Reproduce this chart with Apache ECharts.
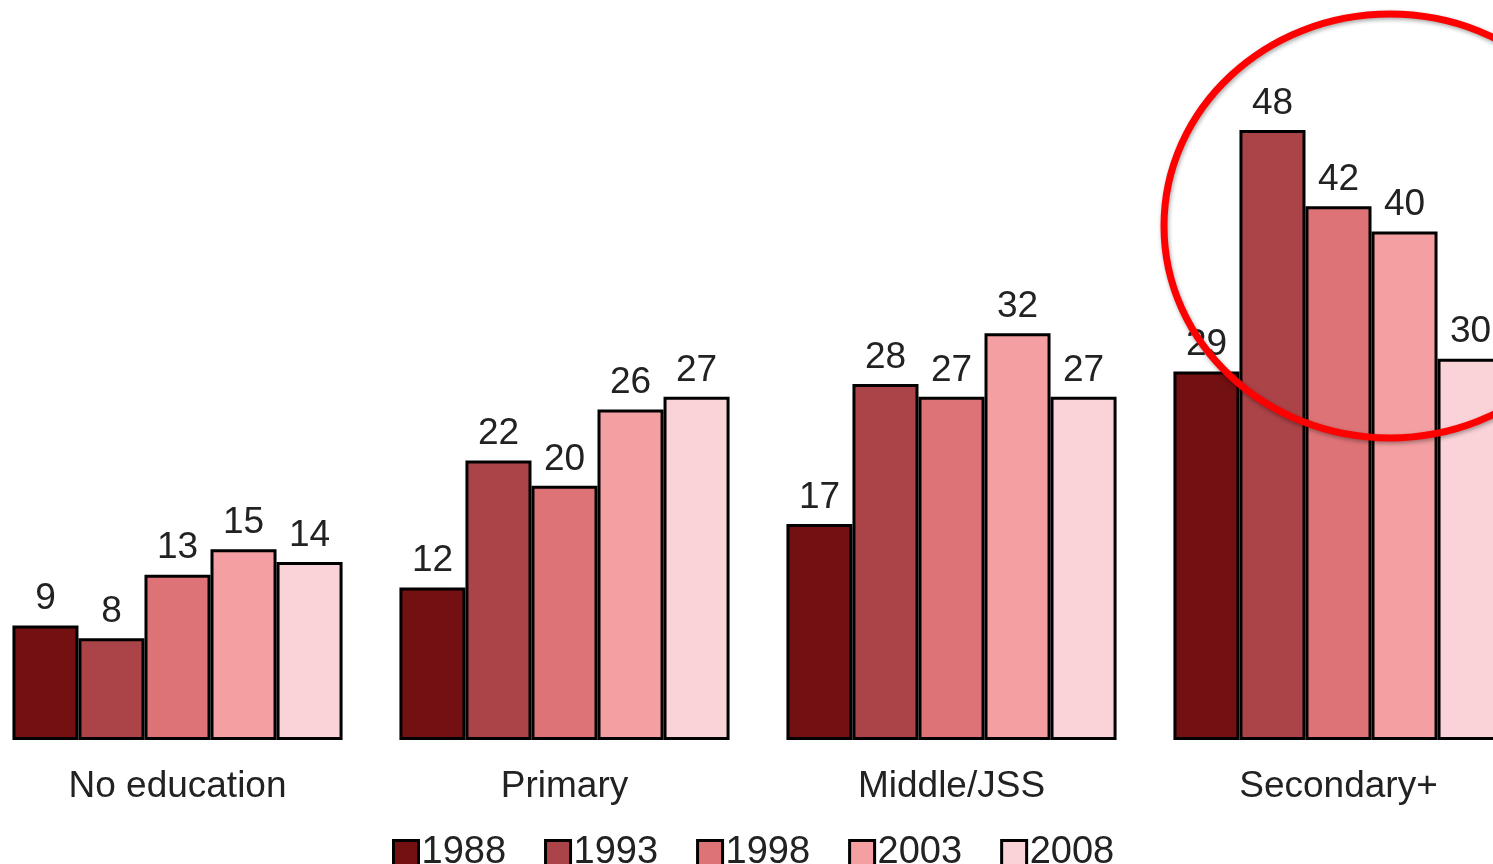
<!DOCTYPE html>
<html>
<head>
<meta charset="utf-8">
<script src="https://cdn.jsdelivr.net/npm/echarts@6/dist/echarts.min.js"></script>
<style>
  html, body { margin: 0; padding: 0; background: #fff; overflow: hidden; width: 1493px; height: 864px; }
  #chart { position: absolute; left: -16px; top: 0; width: 1548px; height: 864px; }
</style>
</head>
<body>
<div id="chart"></div>
<script>
// Education levels and survey years
const categories = ['No education', 'Primary', 'Middle/JSS', 'Secondary+'];
const years = ['1988', '1993', '1998', '2003', '2008'];

// Percentages per survey year, one value per education level
const v1988 = [9, 12, 17, 29];
const v1993 = [8, 22, 28, 48];
const v1998 = [13, 20, 27, 42];
const v2003 = [15, 26, 32, 40];
const v2008 = [14, 27, 27, 30];

const seriesValues = [v1988, v1993, v1998, v2003, v2008];
const colors = ['#721012', '#AB4448', '#DE7377', '#F4A0A2', '#FAD3D8'];

const chart = echarts.init(document.getElementById('chart'));

const textFont = 'Liberation Sans, Arial, sans-serif';
// the container is shifted 16px left, so page x = chart x - 16
const shift = 16;

chart.setOption({
  animation: false,
  backgroundColor: '#ffffff',
  grid: { left: 0, right: 0, top: 104.5, bottom: 124, containLabel: false },
  xAxis: {
    type: 'category',
    data: categories,
    axisLine: { show: false },
    axisTick: { show: false },
    axisLabel: {
      margin: 28,
      fontSize: 37,
      color: '#222',
      fontFamily: textFont
    }
  },
  yAxis: {
    type: 'value',
    min: 0,
    max: 50,
    show: false,
    splitLine: { show: false }
  },
  legend: {
    left: 387 + shift,
    top: 829,
    icon: 'rect',
    itemWidth: 25,
    itemHeight: 25,
    itemGap: 38,
    textStyle: { fontSize: 38, color: '#222', fontFamily: textFont, padding: [0, 0, 0, -2] },
    itemStyle: { borderColor: '#000', borderWidth: 3 },
    data: years
  },
  series: years.map((y, i) => ({
    name: y,
    type: 'bar',
    data: seriesValues[i],
    barGap: '0%',
    barCategoryGap: '14.7%',
    itemStyle: { color: colors[i], borderColor: '#000', borderWidth: 3 },
    label: {
      show: true,
      position: 'top',
      distance: 8,
      fontSize: 37,
      color: '#222',
      fontFamily: textFont
    }
  })),
  graphic: [{
    type: 'ellipse',
    z: 100,
    shape: { cx: 1390 + shift, cy: 226, rx: 226, ry: 212 },
    style: {
      fill: 'none',
      stroke: '#ff0000',
      lineWidth: 7,
      shadowBlur: 4,
      shadowColor: 'rgba(0,0,0,0.35)',
      shadowOffsetX: 1,
      shadowOffsetY: 2
    }
  }]
});
</script>
</body>
</html>
